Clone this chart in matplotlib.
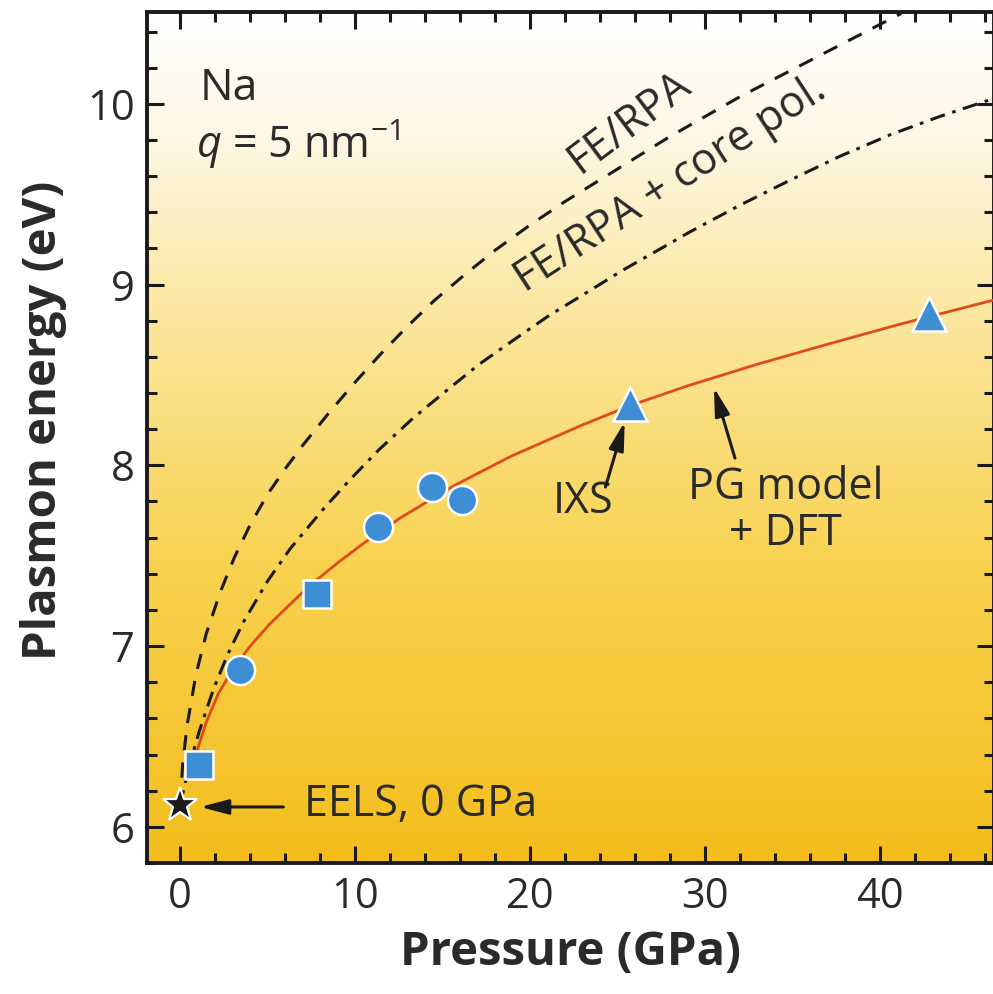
import numpy as np
import matplotlib
matplotlib.use("Agg")
import matplotlib.pyplot as plt
from matplotlib.colors import LinearSegmentedColormap

plt.rcParams['font.family'] = ['Open Sans', 'DejaVu Sans']
plt.rcParams['mathtext.fontset'] = 'custom'
plt.rcParams['mathtext.it'] = 'Open Sans:italic'
plt.rcParams['mathtext.rm'] = 'Open Sans'

# ---- data ----
sq_p = [1.1, 7.8]
sq_e = [6.34, 7.29]
circ_p = [3.4, 11.3, 14.4, 16.1]
circ_e = [6.87, 7.66, 7.88, 7.81]
tri_p = [25.7, 42.8]
tri_e = [8.34, 8.84]
star_p = [0.0]
star_e = [6.12]

pg_p = [1.0, 1.5, 2.2, 3.0, 4.0, 5.1, 6.7, 7.6, 9.0, 10.5, 12.6, 15.5, 18.9, 22.9, 25.7,
        29.0, 33.0, 37.0, 41.1, 45.1, 46.5]
pg_e = [6.43, 6.58, 6.74, 6.87, 7.00, 7.12, 7.27, 7.35, 7.46, 7.57, 7.71, 7.88, 8.05, 8.22, 8.33,
        8.44, 8.56, 8.67, 8.78, 8.88, 8.915]

fe_p = [0.0, 0.15, 0.4, 0.9, 1.5, 2.3, 3.1, 4.0, 5.0, 6.0, 7.0, 8.5, 10.0, 11.5, 13.0,
        14.5, 16.2, 18.0, 20.0, 22.0, 24.0, 26.0, 28.0, 30.0, 32.0, 34.0, 36.0, 38.0,
        40.0, 41.2]
fe_e = [6.12, 6.35, 6.56, 6.84, 7.07, 7.30, 7.49, 7.67, 7.84, 7.98, 8.11, 8.29, 8.46, 8.62, 8.77,
        8.91, 9.05, 9.19, 9.33, 9.46, 9.58, 9.70, 9.82, 9.93, 10.04, 10.14, 10.24, 10.34,
        10.44, 10.50]

core_p = [0.0, 0.5, 1.1, 1.9, 2.7, 3.6, 5.0, 6.3, 8.2, 9.7, 11.4, 13.3, 15.3, 17.1, 19.3,
          21.1, 23.3, 25.3, 27.3, 29.1, 32.0, 34.9, 37.7, 40.6, 43.4, 46.5]
core_e = [6.12, 6.33, 6.53, 6.76, 6.95, 7.13, 7.36, 7.54, 7.76, 7.92, 8.09, 8.26, 8.42, 8.56, 8.71,
          8.83, 8.96, 9.08, 9.19, 9.29, 9.44, 9.58, 9.71, 9.83, 9.93, 10.03]

xticks = [0, 10, 20, 30, 40]
yticks = [6, 7, 8, 9, 10]

W, H = 993, 994
fig = plt.figure(figsize=(W/100, H/100), dpi=100)
ax = fig.add_axes([147/W, 1-863/H, (994-147)/W, (863-12)/H])

xlim = (-1.89, 46.5)
ylim = (5.807, 10.508)

# background gradient
cmap = LinearSegmentedColormap.from_list('bg', [
    (0.0, '#F4BD1C'), (0.35, '#F8D250'), (0.65, '#FBE7A0'), (0.85, '#FEF7E3'), (1.0, '#FFFFFF')])
grad = np.linspace(0, 1, 256).reshape(-1, 1)
ax.imshow(grad, extent=[xlim[0], xlim[1], ylim[0], ylim[1]], origin='lower',
          aspect='auto', cmap=cmap, zorder=0)

ax.plot(fe_p, fe_e, color='#1a1a1a', lw=2.2, dashes=(5, 4), zorder=2)
ax.plot(core_p, core_e, color='#1a1a1a', lw=2.2, dashes=(5, 2.5, 1.2, 2.5), zorder=2)
ax.plot(pg_p, pg_e, color='#E04A1C', lw=2.0, zorder=3)

blue = '#3D8ED4'
ax.plot(sq_p, sq_e, 's', ms=20, mfc=blue, mec='white', mew=1.8, ls='none', zorder=4)
ax.plot(circ_p, circ_e, 'o', ms=21, mfc=blue, mec='white', mew=1.8, ls='none', zorder=4)
ax.plot(tri_p, tri_e, '^', ms=25, mfc=blue, mec='white', mew=1.8, ls='none', zorder=4)
ax.plot(star_p, star_e, '*', ms=26, mfc='#1a1a1a', mec='white', mew=1.6, ls='none', zorder=5)

ax.set_xlim(*xlim)
ax.set_ylim(*ylim)
ax.set_xticks(xticks)
ax.set_yticks(yticks)
ax.set_xticks(np.arange(0, 47, 2), minor=True)
ax.set_yticks(np.arange(5.8, 10.6, 0.2), minor=True)
ax.tick_params(which='both', direction='in', top=True, right=True, width=2.2, colors='#1a1a1a')
ax.tick_params(which='major', length=12, labelsize=30, pad=9)
ax.tick_params(which='minor', length=7)
for lab in ax.get_xticklabels() + ax.get_yticklabels():
    lab.set_color('#2a2a2a')
for s in ax.spines.values():
    s.set_linewidth(2.8)
    s.set_color('#1a1a1a')

ax.set_xlabel('Pressure (GPa)', fontsize=34, fontweight='bold', color='#2a2a2a', labelpad=8)
ax.set_ylabel('Plasmon energy (eV)', fontsize=34, fontweight='bold', color='#2a2a2a')
ax.yaxis.set_label_coords(-0.094, 0.52)

tc = '#2a2a2a'
fs = 31
ax.text(1.1, 10.02, 'Na', fontsize=32, color=tc, va='baseline', ha='left')
ax.text(0.9, 9.70, r'$q$ = 5 nm$^{-1}$', fontsize=31, color=tc, va='baseline', ha='left')
ax.text(25.7, 9.90, 'FE/RPA', fontsize=fs, color=tc, rotation=37, ha='center', va='center',
        rotation_mode='anchor')
ax.text(28.0, 9.55, 'FE/RPA + core pol.', fontsize=fs, color=tc, rotation=33, ha='center',
        va='center', rotation_mode='anchor')
ax.text(23.0, 7.80, 'IXS', fontsize=fs, color=tc, ha='center', va='center')
ax.text(34.6, 7.75, 'PG model\n+ DFT', fontsize=fs, color=tc, ha='center', va='center',
        linespacing=1.05)
ax.text(7.1, 6.12, 'EELS, 0 GPa', fontsize=fs, color=tc, ha='left', va='center')

ap = dict(arrowstyle='-|>,head_length=1.7,head_width=0.45', color='#1a1a1a', lw=2.2,
          shrinkA=0, shrinkB=0)
ax.annotate('', xy=(25.4, 8.24), xytext=(24.3, 7.88), arrowprops=ap, zorder=6)
ax.annotate('', xy=(30.5, 8.43), xytext=(31.7, 8.04), arrowprops=ap, zorder=6)
ax.annotate('', xy=(1.15, 6.11), xytext=(5.9, 6.11), arrowprops=ap, zorder=6)

fig.savefig('out.png', dpi=100)
